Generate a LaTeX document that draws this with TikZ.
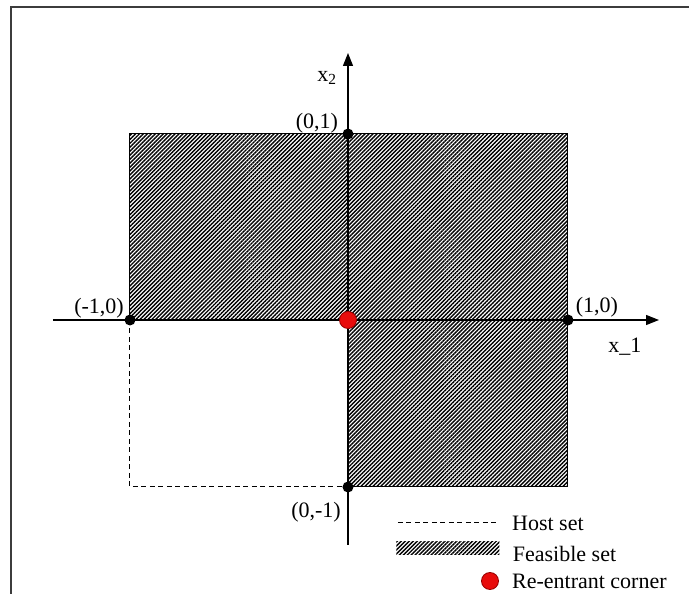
\documentclass[tikz,border=0pt]{standalone}
\usepackage{fontspec}
\setmainfont{Liberation Serif}
\usetikzlibrary{positioning,arrows.meta,patterns.meta}
\definecolor{ink}{RGB}{0,0,0}
\definecolor{frameink}{RGB}{60,60,60}
\definecolor{cornerred}{RGB}{232,12,12}
\definecolor{cornerrim}{RGB}{150,0,0}
\tikzset{
  axis/.style={line width=1.2pt, draw=ink, -{Triangle[length=13pt,width=10pt]}},
  frameline/.style={line width=1.5pt, draw=frameink},
  hostline/.style={line width=1pt, draw=ink, dash pattern=on 5pt off 3.5pt},
  feasible/.style={pattern={Lines[angle=45,distance=2.8pt,line width=1.4pt]}, pattern color=ink},
  pt/.style={circle, fill=ink, inner sep=0pt, minimum size=11pt},
  corner/.style={circle, fill=cornerred, draw=cornerrim, line width=0.8pt, inner sep=0pt,
    minimum size=17pt},
  lbl/.style={font=\fontsize{22}{25}\selectfont, text=ink, inner sep=0pt},
}
\begin{document}
\begin{tikzpicture}[x=1pt,y=1pt]
  \useasboundingbox (-348,-274) rectangle (341,320);
  % frame, only left and top show
  \draw[frameline] (-337,-274) -- (-337,313) -- (341,313);
  % points of the square
  \coordinate (pA) at (-218,0);
  \coordinate (pB) at (220,0);
  \coordinate (pC) at (0,186);
  \coordinate (pD) at (0,-167);
  \coordinate (pO) at (0,0);
  \coordinate (nw) at (-218,186);
  \coordinate (ne) at (220,186);
  \coordinate (se) at (220,-167);
  \coordinate (sw) at (-218,-167);
  % feasible set
  \fill[feasible] (pA) -- (nw) -- (ne) -- (se) -- (pD) -- (pO) -- cycle;
  \draw[line width=1pt] (pA) -- (nw) -- (ne) -- (se) -- (pD) -- (pO) -- cycle;
  % host set
  \draw[hostline] (pA) -- (sw) -- (pD);
  % axes
  \coordinate (xs) at (-295,0);
  \coordinate (xe) at (311,0);
  \coordinate (ys) at (0,-225);
  \coordinate (ye) at (0,267);
  \draw[axis] (xs) -- (xe);
  \draw[axis] (ys) -- (ye);
  \node[pt] (dA) at (pA) {};
  \node[pt] (dB) at (pB) {};
  \node[pt] (dC) at (pC) {};
  \node[pt] (dD) at (pD) {};
  \node[corner] (dO) at (pO) {};
  % labels
  \node[lbl] (lx2) at (-21,242) {x\textsubscript{2}};
  \node[lbl] (lx1) at (277,-27) {x\_1};
  \node[lbl] (lC) at (-31,197) {(0,1)};
  \node[lbl] (lA) at (-249,12) {(-1,0)};
  \node[lbl] (lB) at (249,13) {(1,0)};
  \node[lbl] (lD) at (-32,-192) {(0,-1)};
  % legend
  \coordinate (hostL) at (50,-203);
  \coordinate (hostR) at (150,-203);
  \draw[hostline] (hostL) -- (hostR);
  \node[lbl, right=14pt of hostR] (hostT) {Host set};
  \node[feasible, minimum width=103pt, minimum height=13pt, inner sep=0pt] (feasSw) at (100,-228) {};
  \node[lbl, right=13pt of feasSw, yshift=-6pt] (feasT) {Feasible set};
  \node[corner] (cornerSw) at (142,-261) {};
  \node[lbl, right=13pt of cornerSw] (cornerT) {Re-entrant corner};
\end{tikzpicture}
\end{document}
